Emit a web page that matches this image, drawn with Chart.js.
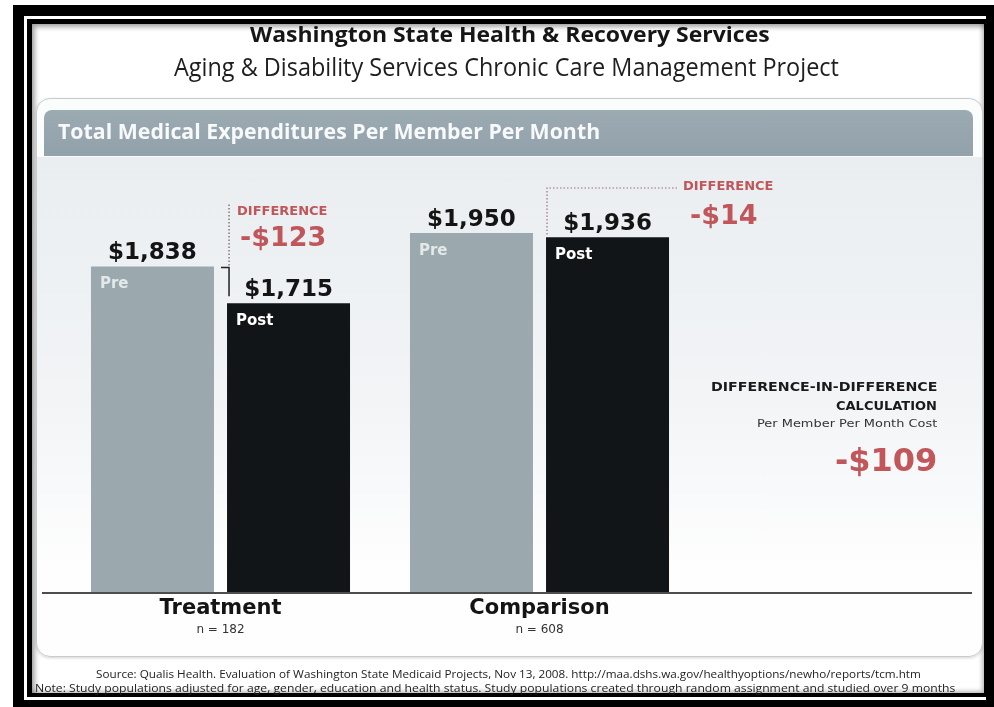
<!DOCTYPE html>
<html><head><meta charset="utf-8">
<script src="https://cdn.jsdelivr.net/npm/chart.js@4.4.1/dist/chart.umd.min.js"></script>
<style>
html,body{margin:0;padding:0;background:#fff;}
#root{position:relative;width:994px;height:707px;overflow:hidden;background:#fff;font-family:'Open Sans',sans-serif;}
.abs{position:absolute;}
.t{position:absolute;white-space:nowrap;line-height:1;transform-origin:0 0;}
</style></head><body>
<div id="root">
 <div class="abs" style="left:13px;top:5px;right:0;bottom:0;background:#000"></div>
 <div class="abs" style="left:24px;top:16px;right:8px;bottom:7px;background:#fff"></div>
 <div class="abs" style="left:27px;top:19px;right:8px;bottom:10px;background:#000"></div>
 <div class="abs" style="left:32px;top:24px;right:10px;bottom:14px;background:#fff;box-shadow:inset 3px 3px 5px rgba(0,0,0,.35), inset -2px -2px 4px rgba(0,0,0,.25)"></div>
 <div class="abs" style="left:36px;top:98px;width:945px;height:557px;border-radius:14px;border:1px solid #c6cbcf;background:linear-gradient(#fbfcfc 0, #fbfcfc 58px, #eaeef1 58px, #f2f4f6 300px, #fefefe 470px);box-shadow:0 1px 3px rgba(0,0,0,.18)"></div>
 <div class="abs" style="left:44px;top:110px;width:929px;height:46px;border-radius:8px 8px 0 0;background:linear-gradient(#9caab2,#92a1aa)"></div>
 <div class="abs" style="left:0;top:0;width:994px;height:707px"><canvas id="c"></canvas></div>
</div>
<script>
// ---- data ----
const categories = ['Treatment', 'Comparison'];
const sampleSizes = ['n = 182', 'n = 608'];
const seriesNames = ['Pre', 'Post'];
const preValues = [1838, 1950];
const postValues = [1715, 1936];

const titleText = 'Washington State Health & Recovery Services';
const subtitleText = 'Aging & Disability Services Chronic Care Management Project';
const headerText = 'Total Medical Expenditures Per Member Per Month';
const sourceText = 'Source: Qualis Health. Evaluation of Washington State Medicaid Projects, Nov 13, 2008. http://maa.dshs.wa.gov/healthyoptions/newho/reports/tcm.htm';
const noteText = 'Note: Study populations adjusted for age, gender, education and health status. Study populations created through random assignment and studied over 9 months';

const differences = preValues.map((p, i) => postValues[i] - p);
const didValue = differences[0] - differences[1];
const money = v => (v < 0 ? '-' : '') + '$' + Math.abs(v).toLocaleString('en-US');

// ---- html text helper ----
const root = document.getElementById('root');
function addText(str, o) {
  const el = document.createElement('div');
  el.className = 't';
  el.textContent = str;
  el.style.fontFamily = o.family || "'Open Sans', sans-serif";
  el.style.fontSize = o.size + 'px';
  el.style.fontWeight = o.weight || 400;
  el.style.color = o.color || '#1b1b1b';
  root.appendChild(el);
  const nat = el.offsetWidth;
  const sx = o.width ? o.width / nat : 1;
  const w = nat * sx;
  const left = o.align === 'center' ? o.x - w / 2 : o.align === 'right' ? o.x - w : o.x;
  el.style.left = left + 'px';
  el.style.top = (o.y - o.size * 0.52) + 'px';
  el.style.transform = 'scaleX(' + sx + ')';
  return el;
}
addText(titleText, {x: 510, y: 33, size: 22, weight: 700, align: 'center', width: 520, color: '#161616'});
addText(subtitleText, {x: 506, y: 67, size: 25, weight: 400, align: 'center', width: 665, color: '#1e1e1e'});
addText(headerText, {x: 58, y: 132, size: 21, weight: 700, align: 'left', width: 542, color: '#f7f9fa'});
addText(sourceText, {x: 508, y: 674, size: 10.5, align: 'center', width: 825, color: '#222'});
addText(noteText, {x: 495, y: 688, size: 10.5, align: 'center', width: 920, color: '#222'});
addText('DIFFERENCE-IN-DIFFERENCE', {x: 937, y: 387, size: 13, weight: 700, align: 'right', width: 226, family: "'DejaVu Sans', sans-serif", color: '#1a1a1a'});
addText('CALCULATION', {x: 937, y: 406, size: 13, weight: 700, align: 'right', family: "'DejaVu Sans', sans-serif", color: '#1a1a1a'});
addText('Per Member Per Month Cost', {x: 937, y: 424, size: 11, align: 'right', width: 180, family: "'DejaVu Sans', sans-serif", color: '#333'});
addText(money(didValue), {x: 937, y: 461, size: 32, weight: 700, align: 'right', family: "'DejaVu Sans', sans-serif", color: '#c2575b'});

// ---- annotations plugin ----
const RED = '#c0565a';
const annot = {
  id: 'annot',
  afterDatasetsDraw(chart) {
    const ctx = chart.ctx;
    const pre = chart.getDatasetMeta(0).data;
    const post = chart.getDatasetMeta(1).data;
    const xs = chart.scales.x, ys = chart.scales.y;
    const base = ys.getPixelForValue(ys.min);
    ctx.save();
    // baseline axis line
    ctx.strokeStyle = '#4d4d4d'; ctx.lineWidth = 2;
    ctx.beginPath(); ctx.moveTo(42, base + 1); ctx.lineTo(972, base + 1); ctx.stroke();

    const F = "'DejaVu Sans', sans-serif";
    categories.forEach((cat, i) => {
      const bars = [pre[i], post[i]];
      const vals = [preValues[i], postValues[i]];
      bars.forEach((b, j) => {
        const left = b.x - b.width / 2;
        ctx.fillStyle = '#141414';
        ctx.font = 'bold 23px ' + F;
        ctx.textAlign = 'center'; ctx.textBaseline = 'alphabetic';
        ctx.fillText(money(vals[j]), b.x, b.y - 7);
        ctx.fillStyle = j === 0 ? '#e3e8ea' : '#ffffff';
        ctx.font = 'bold 15px ' + F;
        ctx.textAlign = 'left'; ctx.textBaseline = 'middle';
        ctx.fillText(seriesNames[j], left + 9, b.y + 18);
      });
      // category labels
      const cx = xs.getPixelForValue(i);
      ctx.fillStyle = '#141414'; ctx.textAlign = 'center'; ctx.textBaseline = 'middle';
      ctx.font = 'bold 21px ' + F;
      ctx.fillText(cat, cx, base + 17);
      ctx.fillStyle = '#333'; ctx.font = '12px ' + F;
      ctx.fillText(sampleSizes[i], cx, base + 38);
    });

    // difference annotations
    ctx.lineWidth = 1.2;
    // Treatment
    {
      const p = pre[0], q = post[0];
      const lx = q.x - q.width / 2 + 2;
      const topY = p.y - 62;
      ctx.strokeStyle = '#6d5a5e';
      ctx.setLineDash([1.5, 2]);
      ctx.beginPath(); ctx.moveTo(lx, topY); ctx.lineTo(lx, p.y); ctx.stroke();
      ctx.setLineDash([]);
      ctx.strokeStyle = '#222'; ctx.lineWidth = 1.5;
      ctx.beginPath(); ctx.moveTo(p.x + p.width / 2 + 7, p.y + 1); ctx.lineTo(lx, p.y + 1); ctx.lineTo(lx, q.y - 7); ctx.stroke();
      ctx.fillStyle = RED; ctx.textAlign = 'left'; ctx.textBaseline = 'middle';
      ctx.font = 'bold 13px ' + F;
      ctx.fillText('DIFFERENCE', lx + 8, p.y - 55);
      ctx.font = 'bold 27px ' + F;
      ctx.fillText(money(differences[0]), lx + 11, p.y - 27);
    }
    // Comparison
    {
      const p = pre[1], q = post[1];
      const lx = q.x - q.width / 2 + 1;
      const topY = p.y - 45;
      const rx = q.x + q.width / 2 + 8;
      ctx.strokeStyle = '#a56d74'; ctx.lineWidth = 1.2;
      ctx.setLineDash([1.5, 2]);
      ctx.beginPath(); ctx.moveTo(rx, topY); ctx.lineTo(lx, topY); ctx.lineTo(lx, q.y - 2); ctx.stroke();
      ctx.setLineDash([]);
      ctx.fillStyle = RED; ctx.textAlign = 'left'; ctx.textBaseline = 'middle';
      ctx.font = 'bold 13px ' + F;
      ctx.fillText('DIFFERENCE', rx + 6, topY - 1);
      ctx.font = 'bold 27px ' + F;
      ctx.fillText(money(differences[1]), rx + 13, topY + 29);
    }
    ctx.restore();
  }
};

new Chart(document.getElementById('c'), {
  type: 'bar',
  data: {
    labels: categories,
    datasets: [
      {label: seriesNames[0], data: preValues, backgroundColor: '#9ba8ad', borderWidth: 0},
      {label: seriesNames[1], data: postValues, backgroundColor: '#121518', borderWidth: 0}
    ]
  },
  options: {
    responsive: true,
    maintainAspectRatio: false,
    animation: false,
    layout: {padding: {left: 61, right: 295, top: 170, bottom: 115}},
    datasets: {bar: {categoryPercentage: 0.853, barPercentage: 0.904}},
    plugins: {legend: {display: false}, tooltip: {enabled: false}},
    scales: {
      x: {display: false},
      y: {display: false, min: 748, max: 2161}
    }
  },
  plugins: [annot]
});
</script>
</body></html>
